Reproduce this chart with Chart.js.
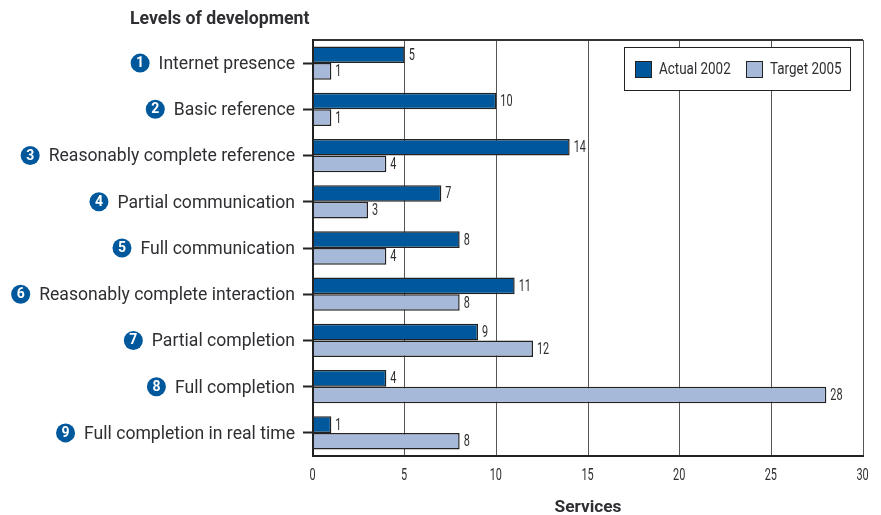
<!DOCTYPE html>
<html><head><meta charset="utf-8">
<style>html,body{margin:0;padding:0;background:#fff}#w{position:relative;width:881px;height:515px}</style>
<script src="https://cdn.jsdelivr.net/npm/chart.js@4"></script></head>
<body><div id="w"><canvas id="c" width="881" height="515"></canvas></div>
<script>
const categories=["Internet presence","Basic reference","Reasonably complete reference","Partial communication","Full communication","Reasonably complete interaction","Partial completion","Full completion","Full completion in real time"];
const actual2002=[5,10,14,7,8,11,9,4,1];
const target2005=[1,1,4,3,4,8,12,28,8];
const seriesNames=["Actual 2002","Target 2005"];
const seriesColors=["#00589c","#a6b9d9"];
const yTitle="Levels of development";
const xTitle="Services";
const INK="#2f2f33";
const LABEL_SIZE=17.6;
const LABEL_FONT=LABEL_SIZE+'px Roboto';
function narrow(g,t,x,y,sx,align){g.save();g.translate(x,y);g.scale(sx,1);g.textAlign=align||'left';g.fillText(t,0,0);g.restore();}
const extras={id:'extras',
 afterDatasetsDraw(ch){
  const g=ch.ctx,y=ch.scales.y,xs_=ch.scales.x;
  g.save();
  g.strokeStyle="#222";g.lineWidth=2;
  g.beginPath();g.moveTo(ch.chartArea.left,ch.chartArea.top-1);g.lineTo(ch.chartArea.left,ch.chartArea.bottom+1);g.stroke();
  g.textBaseline='middle';g.textAlign='left';g.fillStyle=INK;g.font='16px Roboto';
  ch.data.datasets.forEach((d,i)=>{const m=ch.getDatasetMeta(i);
   m.data.forEach((b,j)=>narrow(g,String(d.data[j]),b.x+4,b.y+1,0.68));});
  xs_.ticks.forEach((t,i)=>narrow(g,String(t.value),xs_.getPixelForTick(i)-0.5,476,0.68,'center'));
  // numbered bullets
  categories.forEach((c,i)=>{
   g.font=LABEL_FONT;
   const w=g.measureText(c).width,py=y.getPixelForTick(i),cx=295-w-18.5;
   g.fillStyle="#00589c";g.beginPath();g.arc(cx,py,9.5,0,Math.PI*2);g.fill();
   g.fillStyle="#fff";g.font='bold 14px Roboto';g.textAlign='center';
   g.fillText(String(i+1),cx,py+0.5);g.textAlign='left';
  });
  // axis heading
  g.fillStyle=INK;g.font='bold 17.7px Roboto';g.fillText(yTitle,130,19.5);
  // legend
  g.fillStyle="#fff";g.fillRect(624,47.5,226,43);
  g.strokeStyle="#222";g.lineWidth=1;g.strokeRect(624.5,47.5,226,43);
  const xs=[635,746];
  seriesNames.forEach((n,i)=>{
   g.fillStyle=seriesColors[i];g.fillRect(xs[i]+.5,61.5,16,16);
   g.strokeStyle="#222";g.strokeRect(xs[i]+.5,61.5,16,16);
   g.fillStyle=INK;g.font='17px Roboto';narrow(g,n,xs[i]+24,70,0.79);
  });
  g.restore();
 }};
new Chart(document.getElementById('c'),{
 type:'bar',
 data:{labels:categories,datasets:[
  {label:seriesNames[0],data:actual2002,backgroundColor:seriesColors[0],borderColor:"#222",borderWidth:1.5},
  {label:seriesNames[1],data:target2005,backgroundColor:seriesColors[1],borderColor:"#222",borderWidth:1.5}]},
 options:{indexAxis:'y',responsive:false,animation:false,
  layout:{padding:{top:40,right:18,left:0,bottom:0}},
  categoryPercentage:0.72,barPercentage:1,
  plugins:{legend:{display:false},tooltip:{enabled:false},title:{display:false}},
  scales:{
   x:{min:0,max:30,position:'bottom',afterFit(s){s.height=59;},
    ticks:{stepSize:5,display:false},
    grid:{color:"#555",lineWidth:1,drawTicks:false},
    border:{display:true,color:"#222",width:2},
    title:{display:true,text:xTitle,color:INK,font:{family:"Roboto",size:17.3,weight:'bold'},padding:{top:6,bottom:-3}}},
   y:{afterFit(s){s.width=313;},
    ticks:{color:INK,font:{family:"Roboto",size:LABEL_SIZE},padding:8,autoSkip:false,labelOffset:1.5},
    grid:{offset:false,drawOnChartArea:false,tickLength:10,tickColor:"#222",tickWidth:2},
    border:{display:true,color:"#222",width:2}}
  }},
 plugins:[extras,{id:'frame',beforeDatasetsDraw(ch){const g=ch.ctx,a=ch.chartArea;g.save();g.strokeStyle="#333";g.lineWidth=2;
   g.beginPath();g.moveTo(a.left,a.top);g.lineTo(a.right,a.top);g.stroke();g.restore();}}]
});
</script></body></html>
